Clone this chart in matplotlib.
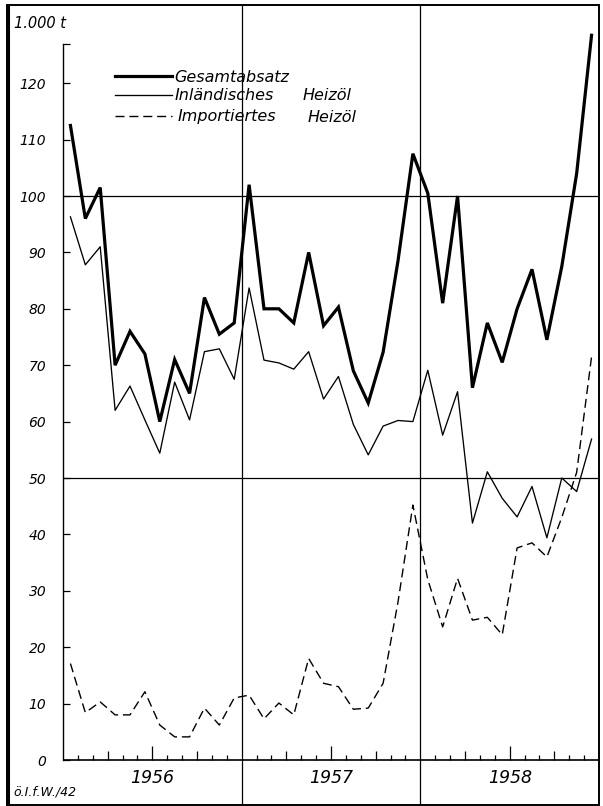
import matplotlib
matplotlib.use("Agg")
import matplotlib.pyplot as plt
from matplotlib.lines import Line2D
from matplotlib.patches import Rectangle
from matplotlib.ticker import FixedLocator

# ---- data (1000 t per month, Jan 1956 .. Dec 1958) ----
years = ["1956", "1957", "1958"]
gesamt = [112.5, 96, 101.5, 70, 76, 72, 60, 71, 65, 82, 75.5, 77.5,
          102, 80, 80, 77.5, 90, 77, 80.3, 69, 63.3, 72.3, 88.5, 107.5,
          100.5, 81, 100, 66, 77.5, 70.5, 80, 87, 74.5, 87.5, 104, 128.5]
inland = [96.3, 87.8, 91, 62, 66.3, 60.3, 54.4, 67, 60.3, 72.4, 72.9, 67.5,
          83.7, 70.9, 70.4, 69.3, 72.4, 64, 68, 59.5, 54.1, 59.2, 60.2, 60,
          69.1, 57.6, 65.3, 42, 51.1, 46.4, 43.1, 48.5, 39.4, 50, 47.6, 56.9]
imported = [17.1, 8.4, 10.3, 8, 8, 12.1, 6.2, 4.1, 4.1, 9.2, 6.2, 11,
            11.5, 7.3, 10.1, 8, 18, 13.6, 13, 9, 9.2, 13.6, 28, 45.2,
            32, 23.6, 32.2, 24.8, 25.3, 22.2, 37.6, 38.5, 36, 43, 51, 71.5]
series_labels = ["Gesamtabsatz", "Inländisches", "Importiertes"]
ytick_values = [0, 10, 20, 30, 40, 50, 60, 70, 80, 90, 100, 110, 120]
unit_label = "1.000 t"
source_label = "ö.I.f.W./42"

W, H = 603, 806
fig = plt.figure(figsize=(W / 100, H / 100), dpi=100)
fig.patch.set_facecolor("white")

def fx(x):
    return x / W

def fy(y):
    return 1 - y / H

# axes occupying the inner framed region
left_px, right_px, top_px, bot_px = 63, 599, 5, 805
ax = fig.add_axes([fx(left_px), fy(bot_px), fx(right_px - left_px), (bot_px - top_px) / H])
px_per_unit = 5.64
zero_px = 760
ax.set_ylim((zero_px - bot_px) / px_per_unit, (zero_px - top_px) / px_per_unit)
n = len(gesamt)
ax.set_xlim(0, n)
ax.set_facecolor("none")

for s in ["top", "right", "bottom"]:
    ax.spines[s].set_visible(False)
ax.spines["left"].set_position(("data", 0))
ax.spines["left"].set_bounds(0, 127)
ax.spines["left"].set_linewidth(1.0)

ax.yaxis.set_major_locator(FixedLocator(ytick_values))
ax.yaxis.set_minor_locator(FixedLocator([127]))
ax.set_yticklabels([str(v) for v in ytick_values])
ax.tick_params(axis="y", which="major", direction="in", length=5, width=0.9,
               pad=12, labelsize=10)
ax.tick_params(axis="y", which="minor", direction="in", length=5, width=0.9)
for lab in ax.get_yticklabels():
    lab.set_fontstyle("italic")
ax.set_xticks([])

# grid / reference lines
ax.axhline(0, color="black", lw=1.2, xmin=0, xmax=1)
for v in (50, 100):
    ax.axhline(v, color="black", lw=0.9)
for k in (12, 24):
    ax.axvline(k, color="black", lw=0.9)

# month ticks on the zero line, pointing up
unit_per_px = 1 / px_per_unit
tick_x, tick_top = [], []
for k in range(1, n):
    if k % 12 == 0:
        continue
    L = 14 if k % 6 == 0 else (9.5 if k % 3 == 0 else 5)
    tick_x.append(k)
    tick_top.append(L * unit_per_px)
ax.vlines(tick_x, 0, tick_top, color="black", lw=0.9)

# data lines
xs = [i + 0.5 for i in range(n)]
ax.plot(xs, gesamt, color="black", lw=2.3, solid_joinstyle="miter", zorder=5)
ax.plot(xs, inland, color="black", lw=0.95, zorder=5)
ax.plot(xs, imported, color="black", lw=1.0, dashes=(6.5, 3.5), zorder=5)

# year labels
for i, yr in enumerate(years):
    ax.text(i * 12 + 6, (zero_px - 778) / px_per_unit, yr, ha="center", va="center",
            fontsize=12.5, fontstyle="italic")

# outer frame
fig.add_artist(Rectangle((fx(7), fy(805)), fx(599 - 7), (805 - 5) / H,
                         transform=fig.transFigure, fill=False, lw=1.4, ec="black"))
fig.add_artist(Line2D([fx(7.5), fx(7.5)], [fy(5), fy(805)], transform=fig.transFigure,
                      color="black", lw=2.2))

# unit and source texts
fig.text(fx(14), fy(24), unit_label, fontsize=10.5, fontstyle="italic", ha="left", va="center")
fig.text(fx(13), fy(792), source_label, fontsize=9, fontstyle="italic", ha="left", va="center")

# legend (hand placed like the original)
leg_y = [76, 95, 116]
styles = [dict(lw=2.3), dict(lw=0.95), dict(lw=1.0, dashes=(6.5, 3.5))]
for yy, st in zip(leg_y, styles):
    fig.add_artist(Line2D([fx(115), fx(172)], [fy(yy), fy(yy)], transform=fig.transFigure,
                          color="black", **st))
fig.text(fx(174), fy(77), series_labels[0], fontsize=11.5, fontstyle="italic", va="center")
fig.text(fx(175), fy(96), series_labels[1], fontsize=11.5, fontstyle="italic", va="center")
fig.text(fx(178), fy(117), series_labels[2], fontsize=11.5, fontstyle="italic", va="center")
fig.text(fx(303), fy(96), "Heizöl", fontsize=11.5, fontstyle="italic", va="center")
fig.text(fx(308), fy(117), "Heizöl", fontsize=11.5, fontstyle="italic", va="center")

fig.savefig("out.png", dpi=100, facecolor="white")
